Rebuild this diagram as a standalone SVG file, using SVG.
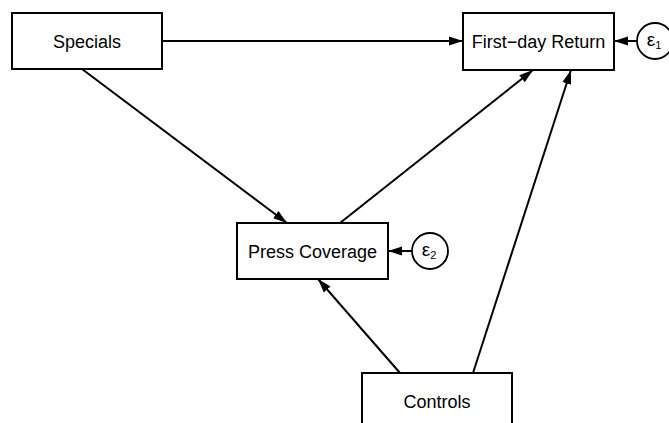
<svg xmlns="http://www.w3.org/2000/svg" width="669" height="423" viewBox="0 0 669 423">
<style>
.box{fill:#fff;stroke:#000;stroke-width:2}
.err{fill:#fff;stroke:#000;stroke-width:1.8}
.lbl{font-family:"Liberation Sans",Arial,sans-serif;font-size:18px;fill:#000;text-anchor:middle}
.eps{font-family:"Liberation Sans",Arial,sans-serif;font-size:19px;fill:#000;text-anchor:middle}
.sub{font-size:11px}
.edge{stroke:#000;stroke-width:2;fill:none;marker-end:url(#ah)}
</style>
<defs>
<marker id="ah" markerUnits="userSpaceOnUse" markerWidth="15" markerHeight="11" refX="14" refY="5.5" orient="auto">
<path d="M0,1 L14,5.5 L0,10 z" fill="#000"/>
</marker>
</defs>
<rect width="669" height="423" fill="#fff"/>
<g id="connectors">
<line class="edge" x1="162" y1="41" x2="463" y2="41"/>
<line class="edge" x1="82" y1="69" x2="287" y2="223"/>
<line class="edge" x1="340" y1="223" x2="533" y2="70"/>
<line class="edge" x1="400" y1="373" x2="318" y2="279"/>
<line class="edge" x1="473" y1="373" x2="571" y2="70"/>
<line class="edge" x1="637" y1="41" x2="614" y2="41"/>
<line class="edge" x1="412" y1="251" x2="388" y2="251"/>
</g>
<g id="specials">
<rect class="box" x="12" y="13" width="150" height="56"/>
<text class="lbl" x="87" y="47.5">Specials</text>
</g>
<g id="firstday">
<rect class="box" x="463" y="13" width="151" height="57"/>
<text class="lbl" x="538.5" y="47.5">First−day Return</text>
</g>
<g id="press">
<rect class="box" x="237" y="223" width="151" height="56"/>
<text class="lbl" x="312.5" y="257.5">Press Coverage</text>
</g>
<g id="controls">
<rect class="box" x="362" y="373" width="150" height="60"/>
<text class="lbl" x="437" y="408">Controls</text>
</g>
<g id="e1">
<circle class="err" cx="655" cy="41" r="18"/>
<text class="eps" x="654" y="46">ε<tspan class="sub" dy="3">1</tspan></text>
</g>
<g id="e2">
<circle class="err" cx="430" cy="251" r="18"/>
<text class="eps" x="429" y="256">ε<tspan class="sub" dy="3">2</tspan></text>
</g>
</svg>
